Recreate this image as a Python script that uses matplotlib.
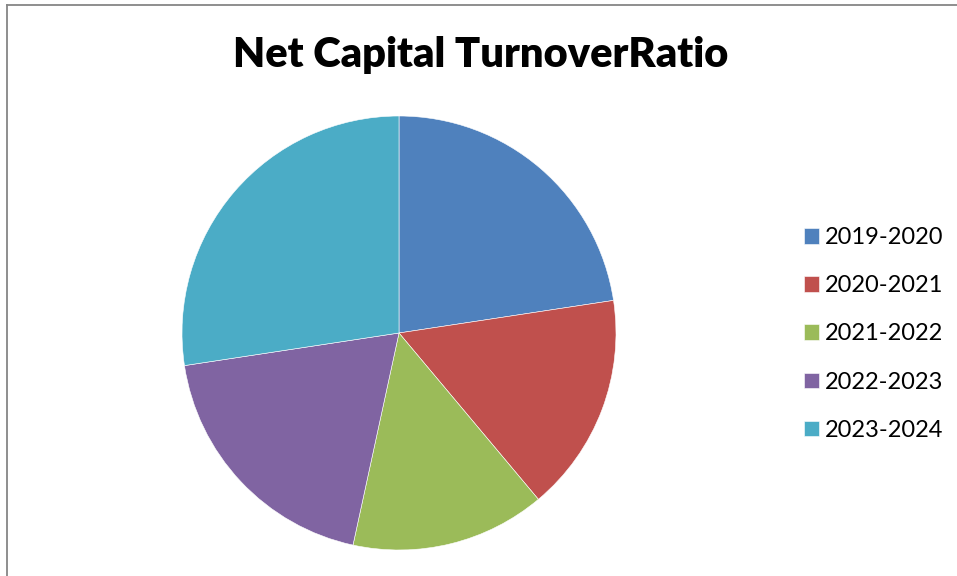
import matplotlib
matplotlib.use("Agg")
import matplotlib.pyplot as plt
from matplotlib.lines import Line2D

# net capital turnover share per financial year
years = ["2019-2020", "2020-2021", "2021-2022", "2022-2023", "2023-2024"]
ratio = [22.6, 16.3, 14.5, 19.2, 27.4]
colors = ["#4F81BD", "#C0504D", "#9BBB59", "#8064A2", "#4BACC6"]

W, H = 957, 576
fig = plt.figure(figsize=(W / 100, H / 100), dpi=100)
fig.patch.set_facecolor("white")

# pie axes: centre (399, 333) px, radius 217 px
cx, cy, r = 399, 333, 217
ax = fig.add_axes([(cx - r) / W, (H - cy - r) / H, 2 * r / W, 2 * r / H])
wedges, _ = ax.pie(ratio, colors=colors, startangle=90, counterclock=False,
                   radius=1, wedgeprops=dict(edgecolor="white", linewidth=0.4))
ax.set_xlim(-1, 1)
ax.set_ylim(-1, 1)
ax.set_aspect("equal")
ax.axis("off")

fig.text(481 / W, 1 - 67 / H, "Net Capital TurnoverRatio", ha="center",
         va="baseline", fontsize=30, fontweight="heavy", family="Lato")

leg = fig.legend(wedges, years, loc="center left",
                 bbox_to_anchor=(804 / W, 1 - 334 / H), frameon=False,
                 prop={"family": "Lato", "size": 17}, handlelength=0.64,
                 handleheight=0.64, handletextpad=0.25, labelspacing=1.15,
                 borderpad=0, borderaxespad=0)

# chart area border (left and top edges)
fig.add_artist(Line2D([7.5 / W, 7.5 / W], [0, 1 - 4.5 / H], color="#868686",
                      linewidth=1.3, transform=fig.transFigure))
fig.add_artist(Line2D([7.5 / W, 1], [1 - 4.5 / H, 1 - 4.5 / H], color="#868686",
                      linewidth=1.3, transform=fig.transFigure))

fig.savefig("out.png", dpi=100)
